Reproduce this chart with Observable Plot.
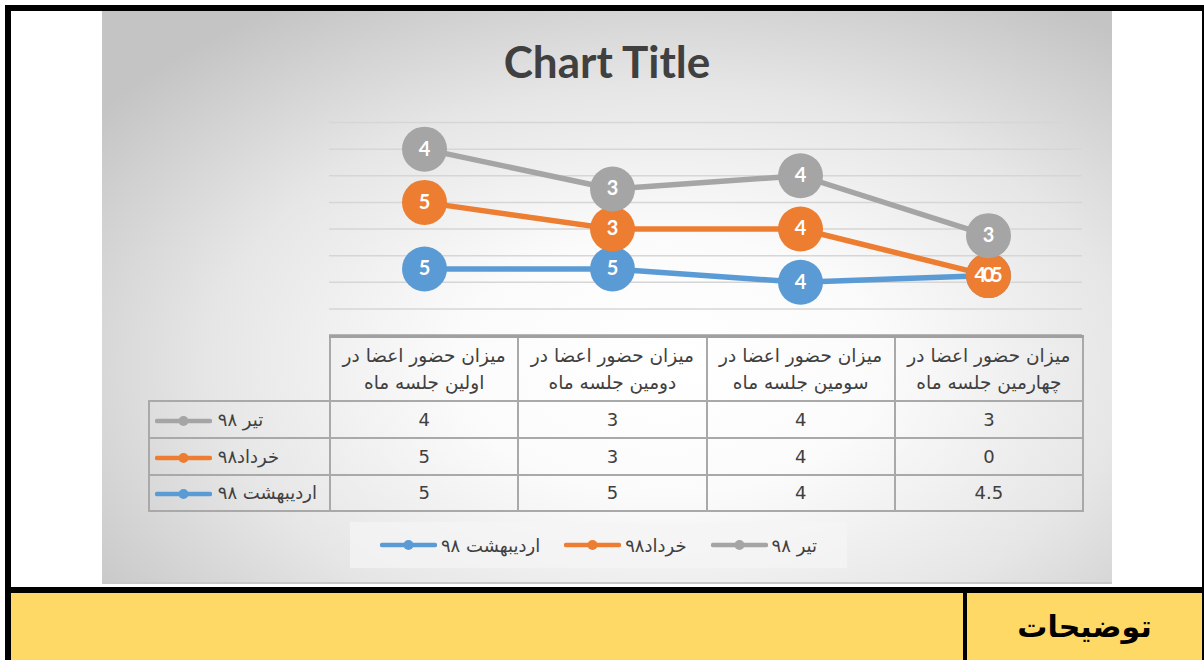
<!DOCTYPE html>
<html>
<head>
<meta charset="utf-8">
<script src="https://cdn.jsdelivr.net/npm/d3@7"></script>
<script src="https://cdn.jsdelivr.net/npm/@observablehq/plot@0.6"></script>
<style>
  html, body { margin: 0; padding: 0; background: #fff; }
  #page { position: relative; width: 1204px; height: 660px; overflow: hidden; background: #fff; }
  .blk { position: absolute; background: #000; }
  #chartbg { position: absolute; left: 102px; top: 11px; width: 1010px; height: 573px;
    background: radial-gradient(ellipse 70% 75% at 56% 62%, #ffffff 0%, #fbfbfb 30%, #e6e6e6 65%, #c4c4c4 100%);
    border-bottom: 2px solid #c8c8c8; box-sizing: border-box; }
  #title { position: absolute; left: 102px; width: 1010px; top: 35px; text-align: center;
    font: bold 44px Lato, "Open Sans", sans-serif; color: #404040; }
  #plot { position: absolute; left: 102px; top: 11px; }
  #tbl { position: absolute; left: 148px; top: 335px; border-collapse: collapse; table-layout: fixed;
    font-family: "DejaVu Sans", sans-serif; color: #404040; }
  #tbl td { border: 2px solid #a9a9a9; padding: 0; text-align: center; font-size: 18px; }
  #tbl td.hdr { font-size: 18.5px; line-height: 27px; direction: rtl; vertical-align: middle; white-space: nowrap; overflow: visible; }
  #tbl td.corner { border-top: none; border-left: none; }
  #tbl td.ser { text-align: left; font-size: 18px; padding-left: 5px; white-space: nowrap; }
  #tbl tr.head td { border-top: 3px solid #a0a0a0; }
  #tbl tr.head td.corner { border-top: none; }
  #legend { position: absolute; left: 350px; top: 522px; width: 497px; height: 46px;
    background: rgba(245,245,245,0.7); display: flex; align-items: center; justify-content: center;
    font: 18px "DejaVu Sans", sans-serif; color: #404040; gap: 0; }
  .item { display: flex; align-items: center; margin: 0 12px; }
  .item svg { margin-right: 4px; }
  #yellow { position: absolute; left: 11px; top: 593px; width: 1191px; height: 67px; background: #FFD966; }
  #note { position: absolute; left: 967px; top: 593px; width: 235px; height: 67px; display: flex;
    align-items: center; justify-content: center; font: bold 30px "DejaVu Sans", "Noto Sans", sans-serif; color: #000; direction: rtl; }
</style>
</head>
<body>
<div id="page">
  <div id="chartbg"></div>
  <div class="blk" style="left:5px;top:5px;width:1199px;height:6px"></div>
  <div class="blk" style="left:5px;top:5px;width:6px;height:655px"></div>
  <div class="blk" style="left:1202px;top:5px;width:2px;height:655px"></div>
  <div id="title"></div>
  <div id="plot"></div>
  <table id="tbl"></table>
  <div id="legend"></div>
  <div class="blk" style="left:5px;top:587px;width:1199px;height:6px"></div>
  <div id="yellow"></div>
  <div class="blk" style="left:963px;top:593px;width:4px;height:67px"></div>
  <div id="note"></div>
</div>
<script>
// ---- data ----
const titleText = "Chart Title";
const noteText = "توضیحات";
const categories = [
  "میزان حضور اعضا در اولین جلسه ماه",
  "میزان حضور اعضا در دومین جلسه ماه",
  "میزان حضور اعضا در سومین جلسه ماه",
  "میزان حضور اعضا در چهارمین جلسه ماه"
];
// series, bottom of stack first
const seriesNames = ["اردیبهشت ۹۸", "خرداد۹۸", "تیر ۹۸"];
const seriesColors = ["#5B9BD5", "#ED7D31", "#A5A5A5"];
const ordibeheshtValues = [5, 5, 4, 4.5];
const khordadValues = [5, 3, 4, 0];
const tirValues = [4, 3, 4, 3];
const yTicks = [0, 2, 4, 6, 8, 10, 12, 14, 16];

const seriesValues = [ordibeheshtValues, khordadValues, tirValues];

// stacked table (Excel "stacked line")
const rows = [];
categories.forEach((c, i) => {
  let acc = 0;
  seriesNames.forEach((s, k) => {
    acc += seriesValues[k][i];
    rows.push({cat: c, series: s, value: seriesValues[k][i], top: acc, color: seriesColors[k]});
  });
});

document.getElementById("title").textContent = titleText;
document.getElementById("note").textContent = noteText;

const plot = Plot.plot({
  width: 1010,
  height: 573,
  marginLeft: 227,
  marginRight: 30,
  marginTop: 111,
  marginBottom: 249,
  style: {background: "transparent", overflow: "visible"},
  x: {type: "point", domain: categories, padding: 0.5, axis: null},
  y: {domain: [0, 16], axis: null},
  color: {domain: seriesNames, range: seriesColors},
  marks: [
    Plot.ruleY(yTicks.filter(d => d > 0), {stroke: "#d6d6d6", strokeWidth: 1.5}),
    Plot.ruleY([0], {stroke: "#a0a0a0", strokeWidth: 2.5}),
    Plot.line(rows, {x: "cat", y: "top", z: "series", stroke: "series", strokeWidth: 5.5, strokeLinejoin: "round"}),
    Plot.dot(rows, {x: "cat", y: "top", fill: "series", r: 22.5, stroke: null}),
    Plot.text(rows, {x: "cat", y: "top", text: d => String(d.value), fill: "white",
      fontSize: 20, fontWeight: "bold", fontFamily: "Lato, 'Open Sans', sans-serif"})
  ]
});
document.getElementById("plot").appendChild(plot);

// ---- data table ----
const colW = 753 / categories.length;
const tbl = document.getElementById("tbl");
let html = `<colgroup><col style="width:181px">${categories.map(() => `<col style="width:${colW}px">`).join("")}</colgroup>`;
html += `<tr class="head" style="height:64px"><td class="corner"></td>` +
  categories.map(c => `<td class="hdr">${c.replace(" در ", " در<br>")}</td>`).join("") + `</tr>`;
const keySvg = (color) => `<svg width="57" height="12" style="vertical-align:middle"><line x1="2" y1="6" x2="55" y2="6" stroke="${color}" stroke-width="4.5" stroke-linecap="round"/><circle cx="28.5" cy="6" r="5" fill="${color}"/></svg>`;
[2, 1, 0].forEach((k, ri) => {
  html += `<tr style="height:${ri === 2 ? 36 : 37}px"><td class="ser">${keySvg(seriesColors[k])} <span>${seriesNames[k]}</span></td>` +
    seriesValues[k].map(v => `<td>${v}</td>`).join("") + `</tr>`;
});
tbl.innerHTML = html;

// ---- legend ----
document.getElementById("legend").innerHTML = seriesNames.map((s, k) =>
  `<div class="item">${keySvg(seriesColors[k])}<span>${s}</span></div>`).join("");
</script>
</body>
</html>
